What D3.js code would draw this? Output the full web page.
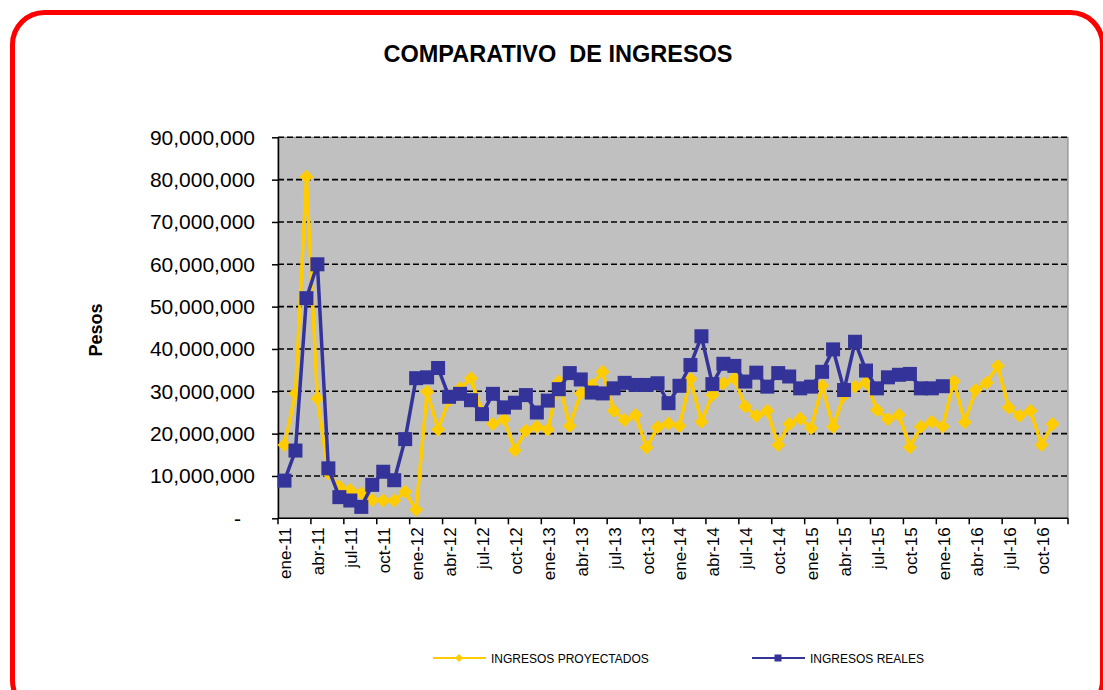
<!DOCTYPE html>
<html>
<head>
<meta charset="utf-8">
<script src="https://cdn.jsdelivr.net/npm/d3@7"></script>
<style>
  body { margin: 0; background: #fff; }
  text { font-family: Arial, "Liberation Sans", sans-serif; }
</style>
</head>
<body>
<script>
// Data: months ene-11 .. dic-16
const meses = ['ene', 'feb', 'mar', 'abr', 'may', 'jun', 'jul', 'ago', 'sep', 'oct', 'nov', 'dic'];
const anios = ['11', '12', '13', '14', '15', '16'];
const categorias = [];
anios.forEach(a => meses.forEach(m => categorias.push(`${m}-${a}`)));

// label every 3rd month
const etiquetas = ['ene-11', 'abr-11', 'jul-11', 'oct-11', 'ene-12', 'abr-12', 'jul-12', 'oct-12',
  'ene-13', 'abr-13', 'jul-13', 'oct-13', 'ene-14', 'abr-14', 'jul-14', 'oct-14',
  'ene-15', 'abr-15', 'jul-15', 'oct-15', 'ene-16', 'abr-16', 'jul-16', 'oct-16'];

const yTicks = [0, 10000000, 20000000, 30000000, 40000000, 50000000, 60000000, 70000000, 80000000, 90000000];

// INGRESOS PROYECTADOS (ene-11 .. nov-16)
const proyectados = [
  17300000, 29500000, 80700000, 28300000, 10600000, 7500000, 6700000, 5900000, 4300000, 4200000, 4200000, 6300000,
  2000000, 29900000, 21000000, 27900000, 30700000, 33100000, 25000000, 22300000, 23400000, 16100000, 20700000, 21600000,
  21000000, 32300000, 21800000, 29500000, 31500000, 34600000, 25400000, 23200000, 24400000, 16700000, 21500000, 22400000,
  21800000, 32900000, 22800000, 29100000, 31900000, 33000000, 26400000, 24200000, 25400000, 17300000, 22300000, 23600000,
  21300000, 31300000, 21600000, 29100000, 31100000, 32000000, 25600000, 23400000, 24400000, 16800000, 21600000, 22800000,
  21700000, 32400000, 22700000, 30300000, 32000000, 36000000, 26200000, 24200000, 25400000, 17300000, 22300000
];

// INGRESOS REALES (ene-11 .. ene-16)
const reales = [
  8900000, 16000000, 52000000, 60000000, 11800000, 5000000, 4200000, 2700000, 7900000, 11000000, 9000000, 18700000,
  33100000, 33300000, 35500000, 28700000, 29400000, 27900000, 24600000, 29400000, 26200000, 27300000, 29100000, 25000000,
  27800000, 30500000, 34300000, 32800000, 29700000, 29500000, 30700000, 32000000, 31500000, 31500000, 31900000, 27200000,
  31300000, 36200000, 43000000, 31700000, 36500000, 36000000, 32300000, 34400000, 31100000, 34300000, 33500000, 30700000,
  31100000, 34600000, 39900000, 30300000, 41700000, 34900000, 30700000, 33300000, 33900000, 34100000, 30700000, 30700000,
  31200000
];

const width = 1103;
const height = 690;
const plot = { left: 278, right: 1068, top: 137.3, bottom: 518.3 };

const svg = d3.select('body')
  .append('svg')
  .attr('width', width)
  .attr('height', height);

svg.append('rect').attr('width', width).attr('height', height).attr('fill', '#fff');

// red rounded frame
svg.append('rect')
  .attr('x', 12.5).attr('y', 12.5)
  .attr('width', 1090).attr('height', 700)
  .attr('rx', 32).attr('ry', 32)
  .attr('fill', 'none')
  .attr('stroke', '#ff0000')
  .attr('stroke-width', 5);

// Scales
const xScale = d3.scaleBand()
  .domain(categorias)
  .range([plot.left, plot.right])
  .padding(0);

const yScale = d3.scaleLinear()
  .domain([0, 90000000])
  .range([plot.bottom, plot.top]);

const cx = d => xScale(d) + xScale.bandwidth() / 2 + 1;

// Plot area
svg.append('rect')
  .attr('x', plot.left).attr('y', plot.top)
  .attr('width', plot.right - plot.left)
  .attr('height', plot.bottom - plot.top)
  .attr('fill', '#c0c0c0')
  .attr('stroke', '#808080')
  .attr('stroke-width', 1);

// Gridlines
svg.append('g')
  .selectAll('line')
  .data(yTicks.filter(d => d > 0))
  .enter()
  .append('line')
  .attr('x1', plot.left).attr('x2', plot.right)
  .attr('y1', d => yScale(d)).attr('y2', d => yScale(d))
  .attr('stroke', '#000')
  .attr('stroke-width', 1.6)
  .attr('stroke-dasharray', '6,3');

// Y axis
const yAxis = svg.append('g')
  .attr('transform', `translate(${plot.left}, 0)`)
  .call(d3.axisLeft(yScale)
    .tickValues(yTicks)
    .tickFormat(d => d === 0 ? '-' : d3.format(',')(d))
    .tickSize(6)
    .tickSizeOuter(0)
    .tickPadding(17));
yAxis.select('.domain').attr('stroke', '#000').attr('stroke-width', 1.5);
yAxis.selectAll('.tick line').attr('stroke', '#000').attr('stroke-width', 1.5);
yAxis.selectAll('.tick text')
  .attr('font-size', 21)
  .attr('font-family', 'Arial, "Liberation Sans", sans-serif')
  .attr('fill', '#000')
  .attr('dx', d => d === 0 ? -14 : 0);

// X axis: labels at band centres, tick marks at band edges every 3 months
const xAxis = svg.append('g')
  .attr('transform', `translate(0, ${plot.bottom})`);

xAxis.append('line')
  .attr('x1', plot.left).attr('x2', plot.right)
  .attr('stroke', '#000').attr('stroke-width', 1.5);

const marcas = etiquetas.map(d => xScale(d)).concat([plot.right]);
xAxis.selectAll('line.marca')
  .data(marcas)
  .enter()
  .append('line')
  .attr('class', 'marca')
  .attr('x1', d => d).attr('x2', d => d)
  .attr('y1', 0).attr('y2', 6)
  .attr('stroke', '#000').attr('stroke-width', 1.5);

xAxis.selectAll('text')
  .data(etiquetas)
  .enter()
  .append('text')
  .attr('transform', d => `translate(${cx(d) + 1}, 9) rotate(-90)`)
  .attr('text-anchor', 'end')
  .attr('dy', '0.35em')
  .attr('font-size', 17)
  .attr('fill', '#000')
  .text(d => d);

// Series
const linea = d3.line()
  .x((d, i) => cx(categorias[i]))
  .y(d => yScale(d));

const diamante = 'M0,-7L7,0L0,7L-7,0Z';

svg.append('path')
  .datum(proyectados)
  .attr('d', linea)
  .attr('fill', 'none')
  .attr('stroke', '#ffcc00')
  .attr('stroke-width', 3.5)
  .attr('stroke-linejoin', 'round');

svg.append('g')
  .selectAll('path')
  .data(proyectados)
  .enter()
  .append('path')
  .attr('d', diamante)
  .attr('transform', (d, i) => `translate(${cx(categorias[i])}, ${yScale(d)})`)
  .attr('fill', '#ffcc00');

svg.append('path')
  .datum(reales)
  .attr('d', linea)
  .attr('fill', 'none')
  .attr('stroke', '#333399')
  .attr('stroke-width', 3.5)
  .attr('stroke-linejoin', 'round');

svg.append('g')
  .selectAll('rect')
  .data(reales)
  .enter()
  .append('rect')
  .attr('x', (d, i) => cx(categorias[i]) - 7)
  .attr('y', d => yScale(d) - 7)
  .attr('width', 14)
  .attr('height', 14)
  .attr('fill', '#333399');

// Title and axis title
svg.append('text')
  .attr('x', 558).attr('y', 62)
  .attr('text-anchor', 'middle')
  .attr('font-size', 23.5)
  .attr('font-weight', 'bold')
  .style('white-space', 'pre')
  .text('COMPARATIVO  DE INGRESOS');

svg.append('text')
  .attr('transform', 'translate(102, 330) rotate(-90)')
  .attr('text-anchor', 'middle')
  .attr('font-size', 18)
  .attr('font-weight', 'bold')
  .text('Pesos');

// Legend
const leyenda = [
  { nombre: 'INGRESOS PROYECTADOS', color: '#ffcc00', x: 433, marca: 'diamante' },
  { nombre: 'INGRESOS REALES', color: '#333399', x: 752, marca: 'cuadro' }
];
const ly = 658;
leyenda.forEach(l => {
  svg.append('line')
    .attr('x1', l.x).attr('x2', l.x + 53)
    .attr('y1', ly).attr('y2', ly)
    .attr('stroke', l.color).attr('stroke-width', 2);
  if (l.marca === 'diamante') {
    svg.append('path')
      .attr('d', 'M0,-4L4,0L0,4L-4,0Z')
      .attr('transform', `translate(${l.x + 26}, ${ly})`)
      .attr('fill', l.color);
  } else {
    svg.append('rect')
      .attr('x', l.x + 26 - 3.5).attr('y', ly - 3.5)
      .attr('width', 7).attr('height', 7)
      .attr('fill', l.color);
  }
  svg.append('text')
    .attr('x', l.x + 58).attr('y', ly + 4.5)
    .attr('font-size', 12)
    .attr('fill', '#000')
    .text(l.nombre);
});
</script>
</body>
</html>
